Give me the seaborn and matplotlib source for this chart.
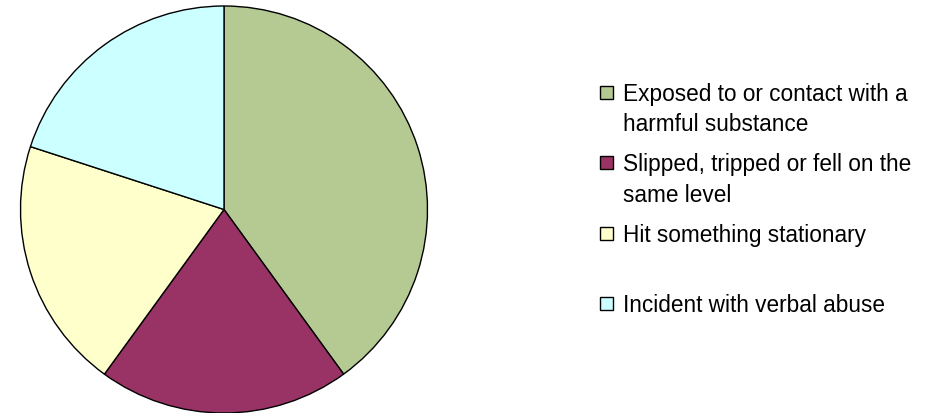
import matplotlib
matplotlib.use("Agg")
import matplotlib.pyplot as plt
from matplotlib.patches import Rectangle
import seaborn as sns

# Incident categories and their counts
categories = [
    "Exposed to or contact with a\nharmful substance",
    "Slipped, tripped or fell on the\nsame level",
    "Hit something stationary",
    "Incident with verbal abuse",
]
counts = [2, 1, 1, 1]
colors = ["#B5C993", "#993366", "#FFFFCC", "#CCFFFF"]

sns.set_theme(style="white")
plt.rcParams["font.family"] = ["Liberation Sans", "DejaVu Sans"]

W, H = 946, 414
fig = plt.figure(figsize=(W / 100, H / 100), dpi=100)
fig.patch.set_facecolor("white")

# Pie area (pixel-based placement)
cx, cy, r = 224, 210.5, 203.5
ax = fig.add_axes([(cx - r) / W, (H - cy - r) / H, 2 * r / W, 2 * r / H])
wedges, _ = ax.pie(
    counts,
    colors=colors,
    startangle=90,
    counterclock=False,
    radius=1.0,
    wedgeprops=dict(edgecolor="black", linewidth=1.0),
)
for w in wedges:
    w.set_clip_on(False)
ax.set_xlim(-1, 1)
ax.set_ylim(-1, 1)
ax.set_aspect("equal")
ax.axis("off")

# Legend drawn in pixel coordinates
lax = fig.add_axes([0, 0, 1, 1])
lax.set_xlim(0, W)
lax.set_ylim(H, 0)
lax.axis("off")
lax.patch.set_alpha(0)

box = 13
x_box = 600
x_text = 623
y_first = 93.5
step = 70.3
line_gap = 30.5
for i, (lab, col) in enumerate(zip(categories, colors)):
    yc = y_first + i * step
    lax.add_patch(Rectangle((x_box, yc - box / 2), box, box,
                            facecolor=col, edgecolor="black", linewidth=1.0))
    for k, line in enumerate(lab.split("\n")):
        lax.text(x_text, yc + 7.5 + k * line_gap, line, fontsize=16.3,
                 va="baseline", ha="left", color="black")

fig.savefig("out.png", dpi=100, facecolor="white")
